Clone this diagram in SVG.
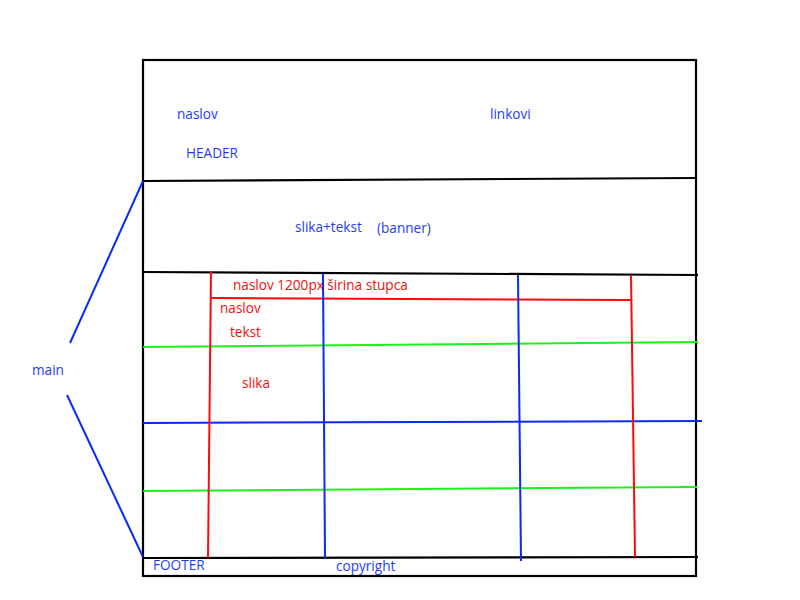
<svg xmlns="http://www.w3.org/2000/svg" width="800" height="600" viewBox="0 0 800 600">
<style>
text{font-family:"Open Sans","Liberation Sans",sans-serif;font-size:13.6px}
.b{fill:#1f3cf5}
.r{fill:#f01010}
.k{stroke:#000;stroke-width:2.2;fill:none}
.bl{stroke:#0a2af5;stroke-width:2;fill:none}
.rd{stroke:#ff0a0a;stroke-width:2;fill:none}
.gr{stroke:#1ef01e;stroke-width:2;fill:none}
</style>
<rect width="800" height="600" fill="#fff"/>
<g id="page">
<rect class="k" x="143" y="60" width="553" height="516" stroke-width="2.5"/>
</g>
<g id="header">
<text class="b" x="177" y="119">naslov</text>
<text class="b" x="490" y="119">linkovi</text>
<text class="b" x="186" y="158">HEADER</text>
</g>
<g id="banner">
<text class="b" x="295" y="232">slika+tekst</text>
<text class="b" x="377" y="233">(banner)</text>
</g>
<g id="main-content">
<text class="r" x="233" y="290">naslov 1200px širina stupca</text>
<text class="r" x="220" y="313">naslov</text>
<text class="r" x="230" y="337">tekst</text>
<text class="r" x="242" y="388">slika</text>
</g>
<g id="main-label">
<text class="b" x="32" y="375">main</text>
</g>
<g id="footer">
<text class="b" x="153" y="570">FOOTER</text>
<text class="b" x="336" y="571">copyright</text>
</g>
<g id="connectors">
<line class="k" x1="143" y1="181" x2="696" y2="178"/>
<line class="k" x1="143" y1="272" x2="698" y2="275"/>
<line class="k" x1="143" y1="558" x2="698" y2="557"/>
<line class="gr" x1="143" y1="347" x2="698" y2="342"/>
<line class="bl" x1="143" y1="423" x2="702" y2="421"/>
<line class="gr" x1="143" y1="491" x2="697" y2="487"/>
<line class="rd" x1="211" y1="272" x2="208" y2="558"/>
<line class="rd" x1="631" y1="275" x2="635" y2="557"/>
<line class="rd" x1="211" y1="298" x2="631" y2="300"/>
<line class="bl" x1="323" y1="274" x2="325" y2="558"/>
<line class="bl" x1="518" y1="275" x2="521" y2="561"/>
<line class="bl" x1="143" y1="181" x2="70" y2="343"/>
<line class="bl" x1="67" y1="395" x2="143" y2="557"/>
</g>
</svg>
